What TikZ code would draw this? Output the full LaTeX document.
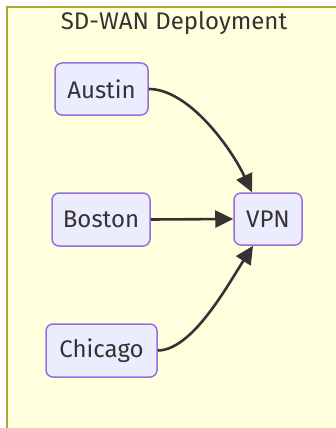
\documentclass[tikz,border=0pt]{standalone}
\usepackage{fontspec}
\setmainfont{Fira Sans}
\usetikzlibrary{arrows.meta}
\definecolor{clfill}{HTML}{FFFFDE}
\definecolor{clline}{HTML}{AAAA33}
\definecolor{nfill}{HTML}{ECECFF}
\definecolor{nline}{HTML}{9370DB}
\definecolor{txt}{HTML}{333333}
\tikzset{
  city/.style={draw=nline, fill=nfill, line width=1.5pt, rounded corners=7pt, text=txt,
    font=\fontsize{24}{28}\selectfont, inner sep=0pt, anchor=center},
  link/.style={draw=txt, line width=2.6pt, -{Triangle[length=18pt,width=17pt]}},
}
\begin{document}
\begin{tikzpicture}[x=1pt,y=-1pt]
\useasboundingbox (0,0) rectangle (336,428);
\fill[white] (0,0) rectangle (336,428);
\draw[clline, fill=clfill, line width=2pt] (7,7) rectangle (340,432);
\node[text=txt, font=\fontsize{24}{28}\selectfont] (title) at (174,23) {SD-WAN Deployment};
\node[city, minimum width=93pt, minimum height=52pt] (austin) at (101.5,89) {Austin};
\node[city, minimum width=98pt, minimum height=53pt] (boston) at (101,219.5) {Boston};
\node[city, minimum width=111pt, minimum height=53pt] (chicago) at (101.5,350.5) {Chicago};
\node[city, minimum width=68pt, minimum height=52pt] (vpn) at (268,219) {VPN};
\draw[link] (austin.east) .. controls (188,89) and (230,146) .. ([xshift=-16pt]vpn.north);
\draw[link] (boston.east) -- (vpn.west);
\draw[link] (chicago.east) .. controls (192,350) and (226,288) .. ([xshift=-15pt]vpn.south);
\end{tikzpicture}
\end{document}
